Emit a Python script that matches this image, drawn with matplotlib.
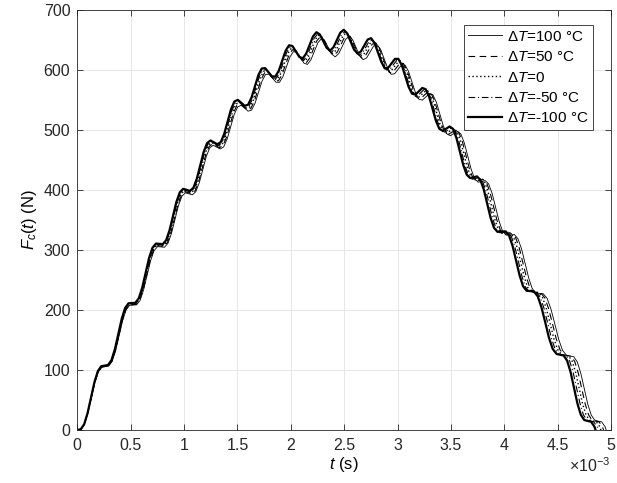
import numpy as np
import matplotlib
matplotlib.use("Agg")
import matplotlib.pyplot as plt

plt.rcParams["font.family"] = "Liberation Sans"
plt.rcParams["mathtext.fontset"] = "custom"
plt.rcParams["mathtext.rm"] = "Liberation Sans"
plt.rcParams["mathtext.it"] = "Liberation Sans:italic"

# contact force of the dT=-100 C curve (thick line), t in units of 1e-3 s
t_base = [
    0, 0.032, 0.064, 0.096, 0.128, 0.16, 0.192, 0.224, 0.256, 0.288,
    0.32, 0.352, 0.384, 0.416, 0.448, 0.48, 0.512, 0.544, 0.576, 0.608,
    0.64, 0.672, 0.704, 0.736, 0.768, 0.8, 0.832, 0.864, 0.896, 0.928,
    0.96, 0.992, 1.024, 1.056, 1.088, 1.12, 1.152, 1.184, 1.216, 1.248,
    1.28, 1.312, 1.344, 1.376, 1.408, 1.44, 1.472, 1.504, 1.536, 1.568,
    1.6, 1.632, 1.664, 1.696, 1.728, 1.76, 1.792, 1.824, 1.856, 1.888,
    1.92, 1.952, 1.984, 2.016, 2.048, 2.08, 2.112, 2.144, 2.176, 2.208,
    2.24, 2.272, 2.304, 2.336, 2.368, 2.4, 2.432, 2.464, 2.496, 2.528,
    2.56, 2.592, 2.624, 2.656, 2.688, 2.72, 2.752, 2.784, 2.816, 2.848,
    2.88, 2.912, 2.944, 2.976, 3.008, 3.04, 3.072, 3.104, 3.136, 3.168,
    3.2, 3.232, 3.264, 3.296, 3.328, 3.36, 3.392, 3.424, 3.456, 3.488,
    3.52, 3.552, 3.584, 3.616, 3.648, 3.68, 3.712, 3.744, 3.776, 3.808,
    3.84, 3.872, 3.904, 3.936, 3.98, 4.013, 4.045, 4.078, 4.111, 4.144,
    4.176, 4.209, 4.242, 4.277, 4.313, 4.348, 4.384, 4.419, 4.454, 4.49,
    4.525, 4.557, 4.589, 4.621, 4.653, 4.685, 4.717, 4.749, 4.781, 4.813,
    4.845, 4.855,
]
f_base = [
    0, 1.2, 9.5, 28.1, 53.8, 79.5, 98.0, 106.3, 107.3, 108.3,
    116.4, 134.6, 160.0, 185.3, 203.4, 211.2, 211.6, 212.0, 219.5, 237.1,
    261.8, 286.4, 303.6, 310.6, 310.2, 309.6, 316.2, 332.8, 356.4, 379.9,
    396.0, 401.8, 400.2, 398.4, 403.7, 419.0, 441.3, 463.4, 478.1, 482.4,
    479.3, 476.0, 479.7, 493.3, 514.0, 534.4, 547.4, 550.0, 545.2, 540.1,
    542.0, 553.8, 572.6, 591.2, 602.3, 602.9, 596.1, 589.1, 589.0, 598.8,
    615.6, 632.1, 641.1, 639.7, 630.7, 621.6, 619.3, 627.0, 641.6, 655.9,
    662.8, 659.1, 648.0, 636.7, 632.2, 637.7, 650.0, 662.1, 666.8, 660.9,
    647.6, 634.0, 627.3, 630.5, 640.6, 650.5, 652.9, 644.9, 629.3, 613.5,
    602.6, 603.4, 611.0, 618.4, 618.3, 607.8, 589.8, 571.6, 560.3, 558.9,
    564.5, 569.9, 567.8, 555.3, 535.3, 515.0, 501.8, 498.5, 502.2, 505.7,
    501.7, 486.6, 464.0, 441.3, 425.5, 419.8, 421.0, 422.6, 416.8, 400.7,
    377.2, 353.4, 336.8, 330.2, 330.6, 331.0, 324.0, 306.7, 282.1, 257.3,
    239.6, 232.0, 231.5, 230.9, 222.9, 204.7, 179.2, 153.5, 135.0, 126.7,
    125.4, 124.1, 115.5, 96.7, 70.6, 44.4, 25.5, 16.7, 15.0, 13.9,
    5.5, 0,
]

# one entry per curve: temperature change, contact duration (1e-3 s), peak force (N)
delta_T = ["100 °C", "50 °C", "0", "-50 °C", "-100 °C"]
contact_time = [4.955, 4.93, 4.905, 4.88, 4.855]
peak_force = [656, 659, 662, 664, 667]

styles = [
    dict(ls="-", lw=0.6),
    dict(ls=(0, (6, 4)), lw=0.8),
    dict(ls=(0, (1, 1.8)), lw=1.0),
    dict(ls=(0, (6, 2.5, 1, 2.5)), lw=0.8),
    dict(ls="-", lw=1.6),
]

x_ticks = [0, 0.5, 1, 1.5, 2, 2.5, 3, 3.5, 4, 4.5, 5]
x_labels = ["0", "0.5", "1", "1.5", "2", "2.5", "3", "3.5", "4", "4.5", "5"]
y_ticks = [0, 100, 200, 300, 400, 500, 600, 700]

fig = plt.figure(figsize=(6.17, 4.83), dpi=100)
ax = fig.add_axes([0.1253, 0.1097, 0.8650, 0.8696])

tb = np.array(t_base)
fb = np.array(f_base)
for lab, dur, pk, st in zip(delta_T, contact_time, peak_force, styles):
    ax.plot(tb * dur / tb[-1], fb * pk / fb.max(), color="k",
            label="Δ$T$=" + lab, **st)

ax.set_xlim(0, 5)
ax.set_ylim(0, 700)
ax.set_xticks(x_ticks)
ax.set_xticklabels(x_labels)
ax.set_yticks(y_ticks)
ax.grid(True, color="#e3e3e3", lw=0.6)
ax.set_axisbelow(True)
ax.tick_params(direction="in", length=4, width=0.6, top=True, right=True,
               labelsize=11.5, colors="#262626")
ax.tick_params(axis="x", pad=6)
ax.tick_params(axis="y", pad=5)
for sp in ax.spines.values():
    sp.set_color("#262626")
    sp.set_linewidth(0.6)

ax.set_xlabel("$t$ (s)", fontsize=12, labelpad=1)
ax.set_ylabel("$F_c(t)$ (N)", fontsize=12, labelpad=3)
ax.text(1.0, -0.085, r"$\times10^{-3}$", transform=ax.transAxes,
        ha="right", va="center", fontsize=11.5, color="#262626")

leg = ax.legend(loc="upper right", bbox_to_anchor=(0.966, 0.964),
                borderaxespad=0, fontsize=11, fancybox=False, framealpha=1,
                edgecolor="#262626", handlelength=2.2, handletextpad=0.3,
                labelspacing=0.42, borderpad=0.3)
leg.get_frame().set_linewidth(0.6)

fig.savefig("out.png", dpi=100)
